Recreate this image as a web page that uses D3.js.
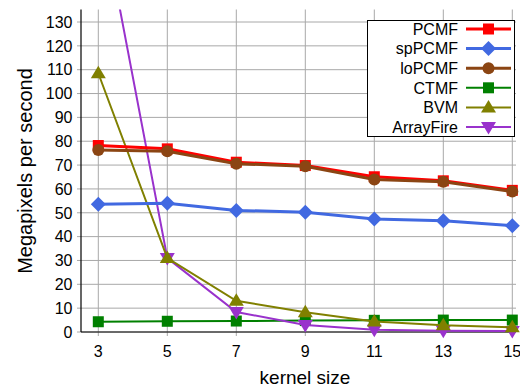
<!DOCTYPE html>
<html><head><meta charset="utf-8">
<script src="https://cdn.jsdelivr.net/npm/d3@7"></script>
<style>body{margin:0;background:#fff}svg{display:block;font-family:"Liberation Sans",Arial,sans-serif}</style>
</head><body><svg id="c" width="520" height="386"></svg>
<script>
const kernelSizes = [3, 5, 7, 9, 11, 13, 15];
const yTicks = [0,10,20,30,40,50,60,70,80,90,100,110,120,130];
const seriesNames = ["PCMF","spPCMF","loPCMF","CTMF","BVM","ArrayFire"];
const pcmf      = [78.2, 76.8, 71.2, 69.8, 65.1, 63.4, 59.4];
const spPcmf    = [53.6, 54.0, 51.0, 50.2, 47.4, 46.7, 44.6];
const loPcmf    = [76.3, 75.8, 70.6, 69.5, 64.0, 63.0, 58.9];
const ctmf      = [4.3, 4.5, 4.6, 4.8, 4.9, 5.0, 5.0];
const bvm       = [108.5, 31.0, 13.1, 8.3, 4.4, 2.8, 2.0];
const arrayFire = [183, 31.0, 8.4, 2.9, 0.9, 0.5, 0.4];

const values = [pcmf, spPcmf, loPcmf, ctmf, bvm, arrayFire];
const colors = ["#ff0000","#4169e1","#8b4513","#008000","#808000","#9932cc"];
const widths = [3, 3, 3, 2, 2, 2];
const shapes = ["square","diamond","circle","square","triangle","triangleDown"];

const svg = d3.select("#c");
const L = 81, R = 516, T = 9.5, B = 332;
const x = d3.scaleLinear().domain([3,15]).range([98.3, 512.3]);
const y = d3.scaleLinear().domain([0,130]).range([B, 22]);

// grid
const g = svg.append("g");
g.selectAll(".gx").data(kernelSizes).enter().append("line")
  .attr("x1", d=>x(d)).attr("x2", d=>x(d)).attr("y1", T).attr("y2", B+4)
  .attr("stroke","#a8a8a8").attr("stroke-width",1);
g.selectAll(".gy").data(yTicks).enter().append("line")
  .attr("x1", L-4).attr("x2", R).attr("y1", d=>y(d)).attr("y2", d=>y(d))
  .attr("stroke","#a8a8a8").attr("stroke-width",1);

// axes labels
svg.selectAll(".yl").data(yTicks).enter().append("text")
  .attr("x", 72.5).attr("y", d=>y(d)).attr("dy","0.36em")
  .attr("text-anchor","end").attr("font-size",16).text(d=>d);
svg.selectAll(".xl").data(kernelSizes).enter().append("text")
  .attr("x", d=>x(d)).attr("y", 356.5)
  .attr("text-anchor","middle").attr("font-size",16).text(d=>d);
svg.append("text").attr("x", 305).attr("y", 383.5).attr("text-anchor","middle")
  .attr("font-size",19).text("kernel size");
svg.append("text").attr("transform",`translate(32,171) rotate(-90)`)
  .attr("text-anchor","middle").attr("font-size",20).text("Megapixels per second");

// axis lines
svg.append("line").attr("x1",L).attr("x2",L).attr("y1",T).attr("y2",B).attr("stroke","#000").attr("stroke-width",1.2);
svg.append("line").attr("x1",L).attr("x2",R).attr("y1",B).attr("y2",B).attr("stroke","#000").attr("stroke-width",1.2);

svg.append("defs").append("clipPath").attr("id","clip").append("rect")
  .attr("x",L).attr("y",T).attr("width",R-L+6).attr("height",B-T+10);

function marker(sel, shape, color, cx, cy) {
  const s = 11;
  if (shape==="square") sel.append("rect").attr("x",cx-s/2).attr("y",cy-s/2).attr("width",s).attr("height",s).attr("fill",color);
  else if (shape==="circle") sel.append("circle").attr("cx",cx).attr("cy",cy).attr("r",6).attr("fill",color);
  else if (shape==="diamond") sel.append("path").attr("d",`M${cx},${cy-7.5}L${cx+7.5},${cy}L${cx},${cy+7.5}L${cx-7.5},${cy}Z`).attr("fill",color);
  else if (shape==="triangle") sel.append("path").attr("d",`M${cx},${cy-7.5}L${cx+7.5},${cy+5}L${cx-7.5},${cy+5}Z`).attr("fill",color);
  else if (shape==="triangleDown") sel.append("path").attr("d",`M${cx},${cy+7.5}L${cx+7.5},${cy-5}L${cx-7.5},${cy-5}Z`).attr("fill",color);
}

const line = d3.line().x((d,i)=>x(kernelSizes[i])).y(d=>y(d));
const order = [3,5,4,1,0,2];
order.forEach(si => {
  const gs = svg.append("g").attr("clip-path","url(#clip)");
  gs.append("path").datum(values[si]).attr("d", line).attr("fill","none")
    .attr("stroke", colors[si]).attr("stroke-width", widths[si]);
  values[si].forEach((v,i) => {
    if (y(v) >= T) marker(gs, shapes[si], colors[si], x(kernelSizes[i]), y(v));
  });
});

// legend
const lg = svg.append("g");
lg.append("rect").attr("x",367.5).attr("y",20.5).attr("width",147).attr("height",116)
  .attr("fill","#fff").attr("stroke","#000").attr("stroke-width",1);
seriesNames.forEach((n,i) => {
  const ly = 29 + i*19.6;
  lg.append("text").attr("x",458).attr("y",ly).attr("dy","0.36em").attr("text-anchor","end")
    .attr("font-size",16).text(n);
  lg.append("line").attr("x1",466).attr("x2",511).attr("y1",ly).attr("y2",ly)
    .attr("stroke",colors[i]).attr("stroke-width",widths[i]);
  marker(lg, shapes[i], colors[i], 488.5, ly);
});
</script></body></html>
